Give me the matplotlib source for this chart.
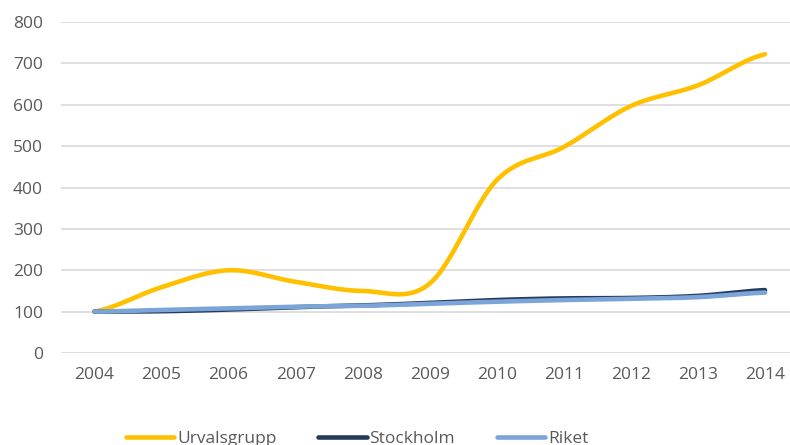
import numpy as np
import matplotlib
matplotlib.use("Agg")
import matplotlib.pyplot as plt

years = ["2004", "2005", "2006", "2007", "2008", "2009", "2010", "2011", "2012", "2013", "2014"]
urvalsgrupp = [100, 159, 200, 172, 150, 168, 418, 498, 597, 647, 722]
stockholm = [100, 101, 105, 111, 115, 121, 128, 132, 133, 138, 152]
riket = [100, 104, 108, 112, 114, 119, 124, 128, 131, 135, 146]

plt.rcParams['font.family'] = ['Open Sans', 'DejaVu Sans']


def smooth(xs, ys, n=30):
    # catmull-rom style smoothing, similar to Excel's smoothed lines
    xs = np.asarray(xs, float)
    ys = np.asarray(ys, float)
    px = np.concatenate([[2 * xs[0] - xs[1]], xs, [2 * xs[-1] - xs[-2]]])
    py = np.concatenate([[ys[0]], ys, [ys[-1]]])
    out_x, out_y = [], []
    for i in range(1, len(px) - 2):
        t = np.linspace(0, 1, n, endpoint=False)
        for arr, out in ((px, out_x), (py, out_y)):
            p0, p1, p2, p3 = arr[i - 1], arr[i], arr[i + 1], arr[i + 2]
            c1 = p1 + (p2 - p0) / 6
            c2 = p2 - (p3 - p1) / 6
            out.extend((1 - t) ** 3 * p1 + 3 * (1 - t) ** 2 * t * c1
                       + 3 * (1 - t) * t ** 2 * c2 + t ** 3 * p2)
    out_x.append(xs[-1])
    out_y.append(ys[-1])
    return out_x, out_y


fig = plt.figure(figsize=(7.9, 4.45), dpi=100)
ax = fig.add_axes([61 / 790, 92 / 445, 729 / 790, 331 / 445])

x = np.arange(len(years))
series = [
    ("Urvalsgrupp", urvalsgrupp, "#FFC000"),
    ("Stockholm", stockholm, "#243B5C"),
    ("Riket", riket, "#7BA5D9"),
]
for name, vals, col in series:
    sx, sy = smooth(x, vals)
    ax.plot(sx, sy, color=col, lw=3.3, solid_capstyle="round", label=name)

ax.set_ylim(0, 800)
ax.set_xlim(-0.5, 10 + 25 / 67.1)
ax.set_yticks(range(0, 801, 100))
ax.set_xticks(x)
ax.set_xticklabels(years)
ax.grid(axis="y", color="#D9D9D9", lw=1.2)
ax.set_axisbelow(True)
for s in ax.spines.values():
    s.set_visible(False)
ax.tick_params(length=0, labelsize=12.5, colors="#595959")
ax.tick_params(axis="y", pad=13)
ax.tick_params(axis="x", pad=10)

# legend sits a bit left of centre and runs off the bottom edge, as in the original
fig.legend(loc="center", bbox_to_anchor=(357 / 790, 6 / 445), ncol=3,
           frameon=False, fontsize=12.5, labelcolor="#595959",
           handlelength=2.8, handletextpad=0.15, columnspacing=2.4)

fig.savefig("out.png", dpi=100)
